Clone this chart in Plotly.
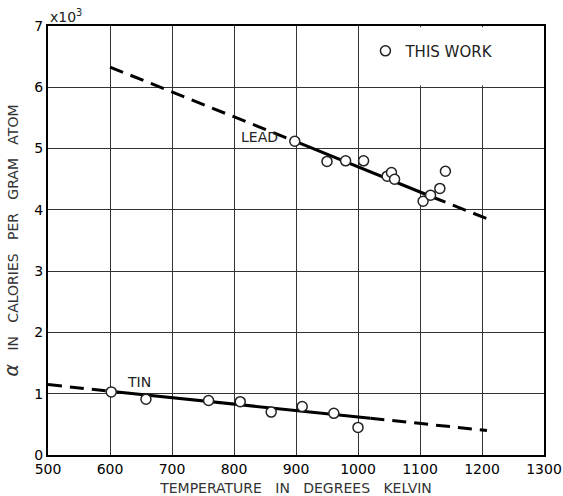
import plotly.graph_objects as go

# Measured heat of solution coefficient alpha (calories per gram atom, x10^3)
lead_T = [898, 950, 980, 1009, 1047, 1054, 1059, 1105, 1117, 1132, 1141]
lead_alpha = [5.12, 4.79, 4.80, 4.80, 4.55, 4.61, 4.50, 4.14, 4.24, 4.35, 4.63]

tin_T = [602, 658, 759, 810, 860, 910, 961, 1000]
tin_alpha = [1.03, 0.91, 0.89, 0.87, 0.70, 0.79, 0.68, 0.45]

# Fitted lines: solid over the measured range, dashed where extrapolated
lead_dash_lo_T = [600, 898]
lead_dash_lo_a = [6.33, 5.12]
lead_solid_T = [898, 1120]
lead_solid_a = [5.12, 4.21]
lead_dash_hi_T = [1120, 1207]
lead_dash_hi_a = [4.21, 3.86]

tin_dash_lo_T = [500, 600]
tin_dash_lo_a = [1.15, 1.04]
tin_solid_T = [600, 1020]
tin_solid_a = [1.04, 0.60]
tin_dash_hi_T = [1020, 1208]
tin_dash_hi_a = [0.60, 0.40]

x_ticks = [500, 600, 700, 800, 900, 1000, 1100, 1200, 1300]
y_ticks = [0, 1, 2, 3, 4, 5, 6, 7]

FONT = "DejaVu Sans"
DASH = "14px,8px"
GAP = "\u00a0\u00a0\u00a0"

fig = go.Figure()

def add_line(xs, ys, dash):
    fig.add_trace(go.Scatter(
        x=xs, y=ys, mode="lines", showlegend=False, hoverinfo="skip",
        line=dict(color="black", width=3, dash=dash),
    ))

add_line(lead_dash_lo_T, lead_dash_lo_a, DASH)
add_line(lead_solid_T, lead_solid_a, "solid")
add_line(lead_dash_hi_T, lead_dash_hi_a, DASH)
add_line(tin_dash_lo_T, tin_dash_lo_a, DASH)
add_line(tin_solid_T, tin_solid_a, "solid")
add_line(tin_dash_hi_T, tin_dash_hi_a, DASH)

marker = dict(symbol="circle", size=10, color="white",
              line=dict(color="#222", width=1.5))
fig.add_trace(go.Scatter(x=lead_T, y=lead_alpha, mode="markers",
                         name="THIS WORK", legendgroup="work",
                         marker=marker))
fig.add_trace(go.Scatter(x=tin_T, y=tin_alpha, mode="markers",
                         name="THIS WORK", legendgroup="work",
                         showlegend=False, marker=marker))

# Blank out the grid behind the key
fig.add_shape(type="rect", xref="x", yref="y", x0=1003, x1=1298,
              y0=6.03, y1=6.98, fillcolor="white", line_width=0,
              layer="between")

fig.add_annotation(x=841, y=5.19, text="LEAD", showarrow=False,
                   font=dict(family=FONT, size=14, color="#222"))
fig.add_annotation(x=647, y=1.19, text="TIN", showarrow=False,
                   font=dict(family=FONT, size=14, color="#222"))
fig.add_annotation(xref="paper", yref="paper", x=0, y=1, xanchor="left",
                   yanchor="bottom", yshift=-1, text="x10<sup>3</sup>",
                   showarrow=False,
                   font=dict(family=FONT, size=14, color="#222"))

axis_common = dict(
    showline=True, linecolor="black", linewidth=2, mirror=True,
    showgrid=True, gridcolor="#333", gridwidth=1,
    zeroline=False, ticks="", tickfont=dict(family=FONT, size=14, color="black"),
)

fig.update_xaxes(range=[500, 1300], tickvals=x_ticks,
                 title=dict(text=GAP.join(["TEMPERATURE", "IN", "DEGREES", "KELVIN"]),
                            font=dict(family=FONT, size=14, color="#333")),
                 **axis_common)
fig.update_yaxes(range=[0, 7], tickvals=y_ticks,
                 title=dict(text=GAP.join(["<i><span style='font-size:19px'>α</span></i>",
                                           "IN", "CALORIES", "PER", "GRAM", "ATOM"]),
                            font=dict(family=FONT, size=14, color="#333")),
                 **axis_common)

fig.update_layout(
    width=563, height=496,
    margin=dict(l=48, r=19, t=26, b=41, autoexpand=False),
    paper_bgcolor="white", plot_bgcolor="white",
    font=dict(family=FONT, color="black"),
    legend=dict(x=0.64, y=0.98, xanchor="left", yanchor="top",
                bgcolor="rgba(0,0,0,0)", itemwidth=30,
                font=dict(family=FONT, size=15, color="#222")),
)

fig.write_html("out.html")
